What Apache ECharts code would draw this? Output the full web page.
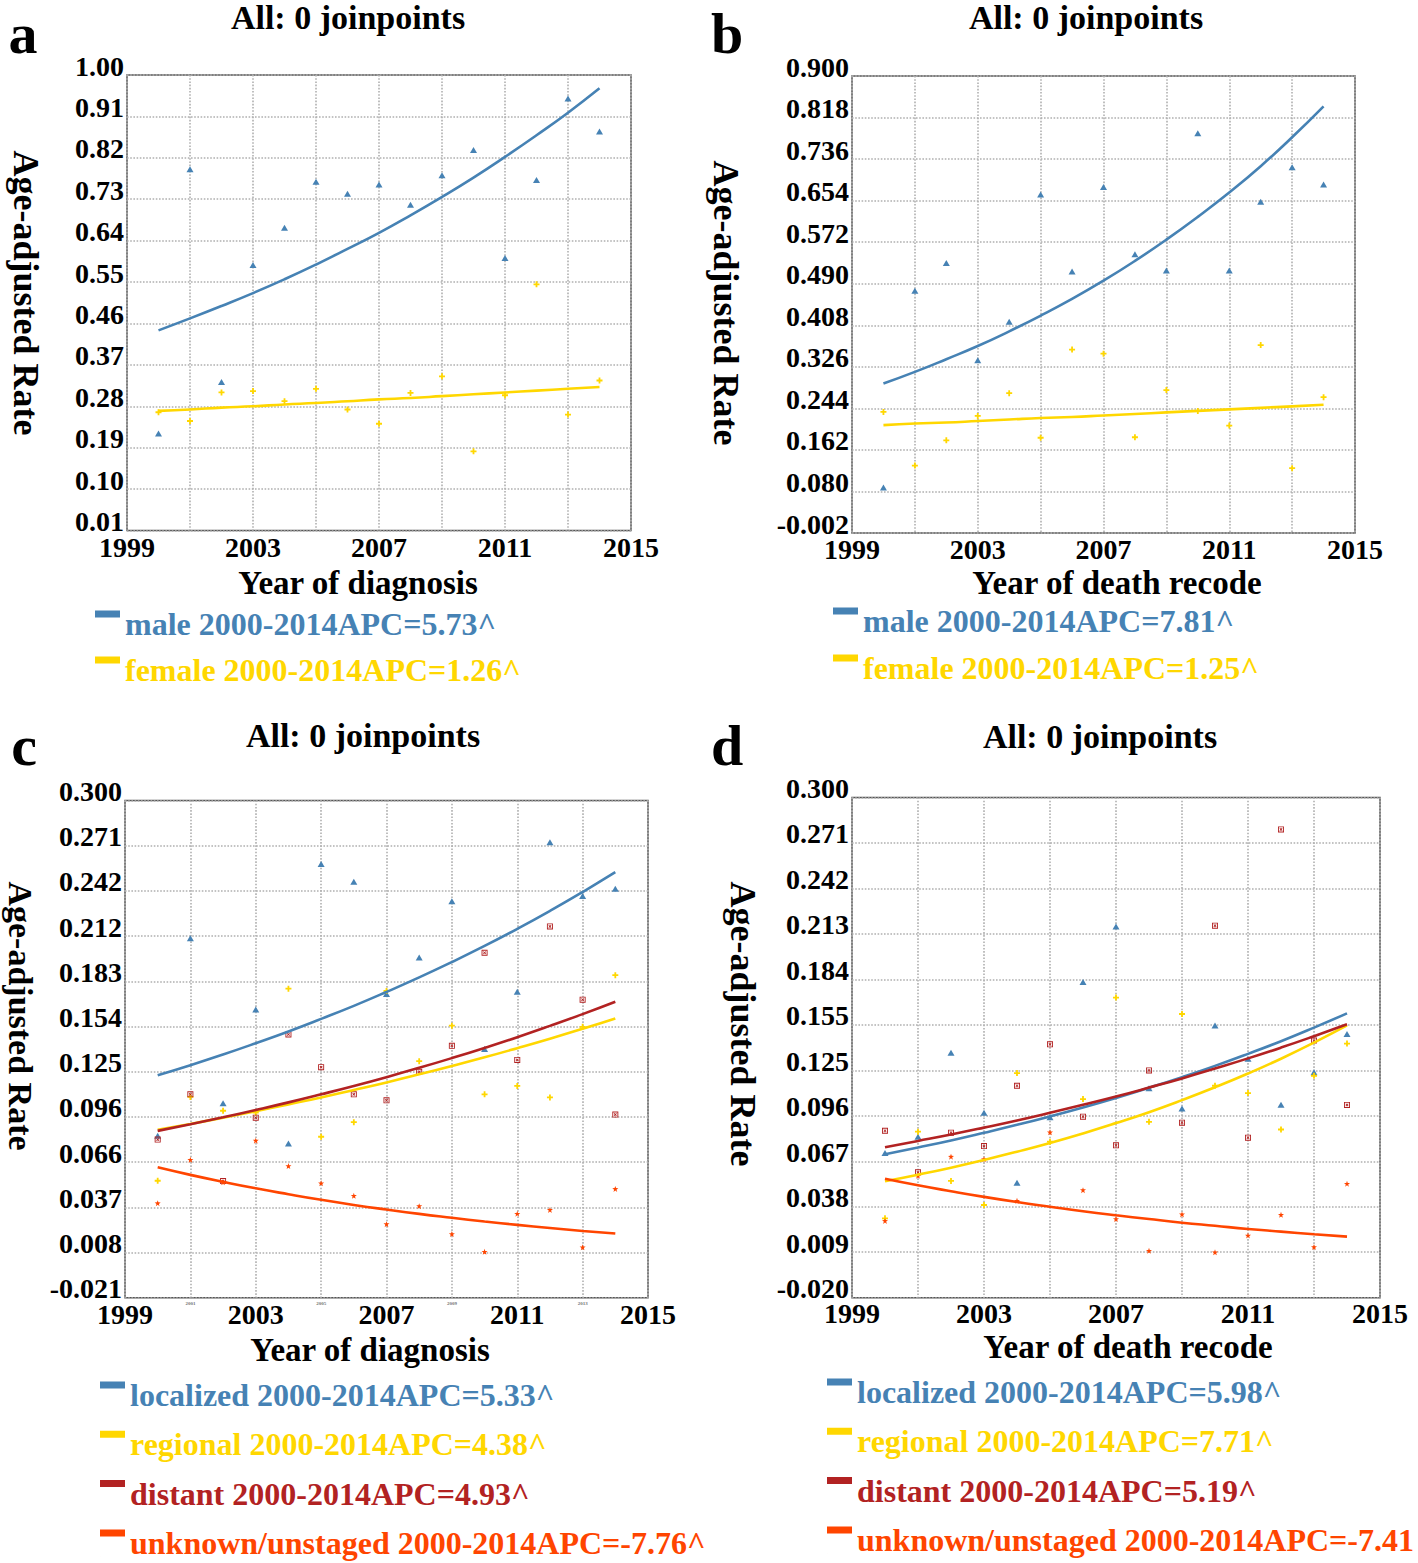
<!DOCTYPE html>
<html><head><meta charset="utf-8">
<script src="https://cdn.jsdelivr.net/npm/echarts@6/dist/echarts.min.js"></script>
<style>html,body{margin:0;padding:0;background:#fff}#chart{width:1418px;height:1563px}</style>
</head><body><div id="chart"></div>
<script>
// ---------- data ----------
const years = [2000,2001,2002,2003,2004,2005,2006,2007,2008,2009,2010,2011,2012,2013,2014];
const xTickLabels = ['1999','2003','2007','2011','2015'];
const xMinorLabels = ['2001','2005','2009','2013'];

// panel a (Year of diagnosis, sex)
const aYTicks = ['0.01','0.10','0.19','0.28','0.37','0.46','0.55','0.64','0.73','0.82','0.91','1.00'];
const aMaleObs   = [0.221,0.795,0.333,0.587,0.668,0.768,0.742,0.762,0.718,0.782,0.837,0.602,0.772,0.949,0.877];
const aMaleFit   = [0.445,0.471,0.498,0.526,0.556,0.588,0.622,0.657,0.695,0.735,0.777,0.822,0.869,0.918,0.971];
const aFemaleObs = [0.267,0.248,0.310,0.313,0.291,0.318,0.273,0.242,0.309,0.345,0.182,0.304,0.545,0.262,0.336];
const aFemaleFit = [0.270,0.273,0.277,0.280,0.284,0.287,0.291,0.295,0.298,0.302,0.306,0.310,0.314,0.318,0.322];
const aNames = ['male 2000-2014APC=5.73^','female 2000-2014APC=1.26^'];

// panel b (Year of death recode, sex)
const bYTicks = ['-0.002','0.080','0.162','0.244','0.326','0.408','0.490','0.572','0.654','0.736','0.818','0.900'];
const bMaleObs   = [0.088,0.476,0.531,0.339,0.415,0.666,0.514,0.681,0.548,0.516,0.787,0.516,0.652,0.720,0.686];
const bMaleFit   = [0.293,0.316,0.341,0.367,0.396,0.427,0.460,0.496,0.535,0.577,0.622,0.670,0.722,0.779,0.840];
const bFemaleObs = [0.237,0.131,0.181,0.229,0.274,0.186,0.360,0.352,0.187,0.280,0.239,0.210,0.369,0.126,0.266];
const bFemaleFit = [0.211,0.214,0.216,0.219,0.222,0.225,0.227,0.230,0.233,0.236,0.239,0.242,0.245,0.248,0.251];
const bNames = ['male 2000-2014APC=7.81^','female 2000-2014APC=1.25^'];

// panel c (Year of diagnosis, stage)
const cYTicks = ['-0.021','0.008','0.037','0.066','0.096','0.125','0.154','0.183','0.212','0.242','0.271','0.300'];
const cLocObs = [0.0835,0.211,0.1045,0.165,0.0786,0.259,0.2475,0.175,0.1987,0.235,0.1396,0.1766,0.273,0.2384,0.243];
const cLocFit = [0.1226,0.1291,0.1360,0.1433,0.1509,0.1590,0.1674,0.1764,0.1858,0.1957,0.2061,0.2171,0.2287,0.2409,0.2537];
const cRegObs = [0.0545,0.1086,0.0997,0.0985,0.1785,0.0829,0.0923,0.177,0.1317,0.1546,0.1103,0.1157,0.1083,0.1539,0.1872];
const cRegFit = [0.0874,0.0912,0.0952,0.0994,0.1038,0.1083,0.1131,0.1180,0.1232,0.1286,0.1342,0.1401,0.1462,0.1526,0.1593];
const cDisObs = [0.0811,0.1103,0.0543,0.0952,0.149,0.1278,0.1103,0.1064,0.1248,0.1416,0.2017,0.1325,0.2187,0.1714,0.0972];
const cDisFit = [0.0867,0.0910,0.0955,0.1002,0.1051,0.1103,0.1157,0.1214,0.1274,0.1337,0.1403,0.1472,0.1545,0.1621,0.1701];
const cUnkObs = [0.0400,0.0680,0.0535,0.0804,0.0640,0.0529,0.0448,0.0265,0.0381,0.0201,0.0086,0.0332,0.0357,0.0115,0.0492];
const cUnkFit = [0.0632,0.0583,0.0538,0.0496,0.0458,0.0422,0.0389,0.0359,0.0331,0.0306,0.0282,0.0260,0.0240,0.0221,0.0204];
const cNames = ['localized 2000-2014APC=5.33^','regional 2000-2014APC=4.38^','distant 2000-2014APC=4.93^','unknown/unstaged 2000-2014APC=-7.76^'];

// panel d (Year of death recode, stage)
const dYTicks = ['-0.020','0.009','0.038','0.067','0.096','0.125','0.155','0.184','0.213','0.242','0.271','0.300'];
const dLocObs = [0.0725,0.0830,0.1367,0.0984,0.0536,0.0955,0.1819,0.2175,0.1140,0.1011,0.1541,0.1328,0.1035,0.1242,0.1487];
const dLocFit = [0.0718,0.0761,0.0806,0.0855,0.0906,0.0960,0.1017,0.1078,0.1143,0.1211,0.1283,0.1360,0.1441,0.1528,0.1619];
const dRegObs = [0.0308,0.0862,0.0547,0.0393,0.1237,0.0798,0.1071,0.1720,0.0925,0.1615,0.1156,0.1109,0.0876,0.1220,0.1426];
const dRegFit = [0.0545,0.0587,0.0632,0.0681,0.0734,0.0790,0.0851,0.0917,0.0987,0.1064,0.1146,0.1234,0.1329,0.1432,0.1542];
const dDisObs = [0.0868,0.0602,0.0856,0.0770,0.1156,0.1421,0.0958,0.0775,0.1254,0.0920,0.2180,0.0824,0.2796,0.1445,0.1033];
const dDisFit = [0.0763,0.0803,0.0844,0.0888,0.0934,0.0983,0.1034,0.1087,0.1144,0.1203,0.1266,0.1331,0.1400,0.1473,0.1549];
const dUnkObs = [0.0291,0.0580,0.0702,0.0686,0.0420,0.0858,0.0488,0.0303,0.0100,0.0333,0.0090,0.0198,0.0330,0.0124,0.0529];
const dUnkFit = [0.0561,0.0519,0.0481,0.0445,0.0412,0.0382,0.0353,0.0327,0.0303,0.0280,0.0260,0.0240,0.0223,0.0206,0.0191];
const dNames = ['localized 2000-2014APC=5.98^','regional 2000-2014APC=7.71^','distant 2000-2014APC=5.19^','unknown/unstaged 2000-2014APC=-7.41'];

// ---------- styles ----------
const FONT = '"Liberation Serif","Times New Roman",serif';
const BLUE = '#4682B4', GOLD = '#FFD700', RED = '#B22222', ORANGE = '#FF4500';
const SYM_TRI = 'triangle';
const SYM_PLUS = 'path://M3.5,0L6.5,0L6.5,3.5L10,3.5L10,6.5L6.5,6.5L6.5,10L3.5,10L3.5,6.5L0,6.5L0,3.5L3.5,3.5Z';
const SYM_BOXX = 'path://M0,0L10,0L10,10L0,10Z M1.5,1.5L1.5,8.5L8.5,8.5L8.5,1.5Z M2.5,3.5L3.5,2.5L5,4L6.5,2.5L7.5,3.5L6,5L7.5,6.5L6.5,7.5L5,6L3.5,7.5L2.5,6.5L4,5Z';
const SYM_STAR = 'path://M5,0L6.2,3.4L10,3.5L7,5.8L8.1,9.5L5,7.3L1.9,9.5L3,5.8L0,3.5L3.8,3.4Z';
// legend key: 25x7 bar at the top of a 25x27 box (text is centred on the box)
const LEGEND_ICON = 'path://M0,0L25,0L25,7L0,7Z M0,26.95L0.05,26.95L0.05,27L0,27Z';

const panels = [
  {grid:{left:127,top:75,width:504,height:455.5}, ticks:aYTicks, minor:false, xMargin:3,
   series:[[aNames[0],BLUE,SYM_TRI,[7,6],aMaleObs,aMaleFit],[aNames[1],GOLD,SYM_PLUS,6,aFemaleObs,aFemaleFit]],
   legend:{left:95,top:608,gap:14}},
  {grid:{left:852,top:76,width:503,height:457}, ticks:bYTicks, minor:false, xMargin:2,
   series:[[bNames[0],BLUE,SYM_TRI,[7,6],bMaleObs,bMaleFit],[bNames[1],GOLD,SYM_PLUS,6,bFemaleObs,bFemaleFit]],
   legend:{left:833,top:605,gap:15}},
  {grid:{left:125,top:800.5,width:523,height:497.2}, ticks:cYTicks, minor:true, xMargin:3,
   series:[[cNames[0],BLUE,SYM_TRI,[7,6],cLocObs,cLocFit],[cNames[1],GOLD,SYM_PLUS,6,cRegObs,cRegFit],
           [cNames[2],RED,SYM_BOXX,6,cDisObs,cDisFit],[cNames[3],ORANGE,SYM_STAR,6,cUnkObs,cUnkFit]],
   legend:{left:100,top:1379,gap:17.3}},
  {grid:{left:852,top:797.5,width:528,height:500.2}, ticks:dYTicks, minor:false, xMargin:2,
   series:[[dNames[0],BLUE,SYM_TRI,[7,6],dLocObs,dLocFit],[dNames[1],GOLD,SYM_PLUS,6,dRegObs,dRegFit],
           [dNames[2],RED,SYM_BOXX,6,dDisObs,dDisFit],[dNames[3],ORANGE,SYM_STAR,6,dUnkObs,dUnkFit]],
   legend:{left:827,top:1376,gap:17.3}}
];

const option = {backgroundColor:'#fff', animation:false, grid:[], xAxis:[], yAxis:[], series:[], legend:[], graphic:[]};

panels.forEach((p, gi) => {
  option.grid.push(Object.assign({show:true, borderColor:'#555', borderWidth:1.5, backgroundColor:'transparent'}, p.grid));
  const xmin = +xTickLabels[0], xmax = +xTickLabels[xTickLabels.length-1];
  option.xAxis.push({
    type:'value', gridIndex:gi, min:xmin, max:xmax, interval:2,
    axisLine:{show:false}, axisTick:{show:false},
    splitLine:{show:true, lineStyle:{color:'#b0b0b0', width:1.6, type:'dotted'}},
    axisLabel:{
      margin:p.xMargin, color:'#000', fontFamily:FONT, fontWeight:'bold', fontSize:28,
      formatter:(v)=>{
        const s = String(Math.round(v));
        if (xTickLabels.indexOf(s) >= 0) return s;
        if (p.minor && xMinorLabels.indexOf(s) >= 0) return '{m|' + s + '}';
        return '';
      },
      rich:{m:{fontSize:5, color:'#777', fontFamily:FONT, verticalAlign:'top', lineHeight:6}}
    }
  });
  const ymin = parseFloat(p.ticks[0]), ymax = parseFloat(p.ticks[p.ticks.length-1]);
  const yint = (ymax - ymin) / (p.ticks.length - 1);
  option.yAxis.push({
    type:'value', gridIndex:gi, min:ymin, max:ymax, interval:yint,
    axisLine:{show:false}, axisTick:{show:false},
    splitLine:{show:true, lineStyle:{color:'#b0b0b0', width:1.6, type:'dotted'}},
    axisLabel:{
      margin:3, color:'#000', fontFamily:FONT, fontWeight:'bold', fontSize:28,
      verticalAlign:'bottom', lineHeight:18,
      formatter:(v)=>{ const i = Math.round((v - ymin)/yint); return p.ticks[i] !== undefined ? p.ticks[i] : ''; }
    }
  });
  const legendData = [];
  p.series.forEach(([name,color,sym,size,obs,fit]) => {
    option.series.push({
      type:'scatter', xAxisIndex:gi, yAxisIndex:gi, symbol:sym, symbolSize:size, silent:true,
      itemStyle:{color:color, opacity:1}, z:3,
      data: years.map((y,i)=>[y, obs[i]])
    });
    option.series.push({
      name:name, type:'line', xAxisIndex:gi, yAxisIndex:gi, smooth:true, showSymbol:false, silent:true,
      color:color, lineStyle:{color:color, width:2.6}, z:4,
      data: years.map((y,i)=>[y, fit[i]])
    });
    legendData.push({name:name, icon:LEGEND_ICON, textStyle:{color:color}});
  });
  option.legend.push({
    data:legendData, orient:'vertical', left:p.legend.left, top:p.legend.top, padding:0,
    width:600, height:260,
    itemWidth:25, itemHeight:27, itemGap:p.legend.gap, selectedMode:false, symbolKeepAspect:false,
    textStyle:{fontFamily:FONT, fontWeight:'bold', fontSize:32}
  });
});

function txt(s, x, y, size, rot) {
  return {type:'text', x:x, y:y, rotation:rot||0, silent:true,
    style:{text:s, x:0, y:0, fill:'#000', font:'bold '+size+'px '+FONT, textAlign:'center', textVerticalAlign:'middle'}};
}
option.graphic = [
  txt('a', 23, 33, 58), txt('b', 727, 33, 58), txt('c', 24, 745, 58), txt('d', 727, 745, 58),
  txt('All: 0 joinpoints', 348, 17.5, 34), txt('All: 0 joinpoints', 1086, 17.5, 34),
  txt('All: 0 joinpoints', 363, 735, 34), txt('All: 0 joinpoints', 1100, 736, 34),
  txt('Year of diagnosis', 358, 583, 33), txt('Year of death recode', 1117, 583, 33),
  txt('Year of diagnosis', 370, 1350, 33), txt('Year of death recode', 1128, 1347, 33),
  txt('Age-adjusted Rate', 26, 293, 36, -Math.PI/2), txt('Age-adjusted Rate', 726, 303, 36, -Math.PI/2),
  txt('Age-adjusted Rate', 20, 1016, 34, -Math.PI/2), txt('Age-adjusted Rate', 743, 1024, 36, -Math.PI/2)
];

const chart = echarts.init(document.getElementById('chart'), null, {renderer:'svg', width:1418, height:1563});
chart.setOption(option);
</script></body></html>
